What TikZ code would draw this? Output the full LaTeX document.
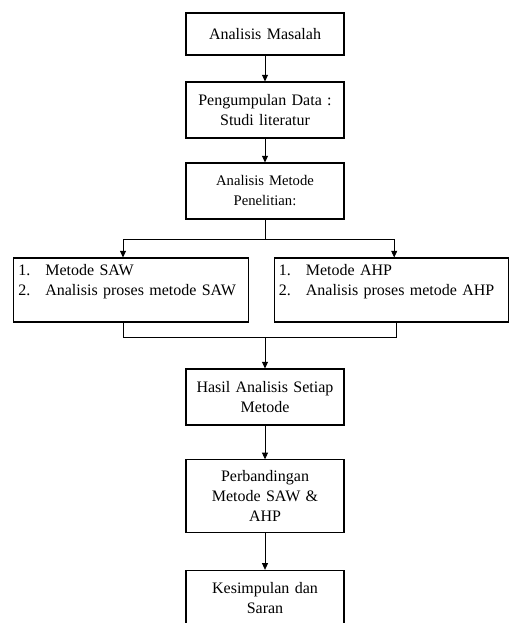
\documentclass[tikz,border=0pt]{standalone}
\usepackage{fontspec}
\setmainfont{Liberation Serif}
\usetikzlibrary{positioning, arrows.meta}

\tikzset{
    stepbox/.style={draw, line width=0.8pt, align=center, text width=112pt,
        minimum width=118.5pt, minimum height=42pt, inner sep=2pt,
        font=\fontsize{12}{15}\selectfont},
    listbox/.style={draw, line width=0.8pt, align=left, text width=169pt,
        minimum width=176pt, minimum height=48pt, inner xsep=3.5pt, inner ysep=0pt,
        font=\fontsize{12}{15}\selectfont},
    flow/.style={line width=0.6pt, -{Triangle[length=5pt,width=4.5pt]}},
    link/.style={line width=0.6pt}
}
\newcommand{\itemno}[1]{\makebox[20.25pt][l]{#1}}

\begin{document}
\begin{tikzpicture}[on grid, auto]
    \useasboundingbox (0,0) rectangle (382.5pt,-467.25pt);
    \clip (0,0) rectangle (382.5pt,-467.25pt);

    \node[stepbox, minimum height=31.5pt] (masalah) at (198.75pt,-25.5pt) {Analisis Masalah};
    \node[stepbox, below=57pt of masalah] (data) {Pengumpulan Data :\\ Studi literatur};
    \node[stepbox, below=60.75pt of data, font=\fontsize{11}{15}\selectfont] (metode) {Analisis Metode\\ Penelitian:};
    \node[listbox, below left=74.25pt and 100.5pt of metode] (saw)
        {\itemno{1.}Metode SAW\\ \itemno{2.}Analisis proses metode SAW\\ \mbox{}};
    \node[listbox, below right=74.25pt and 94.9pt of metode] (ahp)
        {\itemno{1.}Metode AHP\\ \itemno{2.}Analisis proses metode AHP\\ \mbox{}};
    \node[stepbox, below=154.5pt of metode] (hasil) {Hasil Analisis Setiap\\ Metode};
    \node[stepbox, below=74.5pt of hasil, minimum height=54.75pt] (banding) {Perbandingan\\ Metode SAW \&\\ AHP};
    \node[stepbox, below=76.5pt of banding] (simpulan) {Kesimpulan dan\\ Saran};

    % cabang ke dua metode
    \coordinate (split) at ([yshift=-15pt]metode.south);
    \coordinate (join) at ([yshift=-11.25pt]saw.south -| metode.south);

    \draw[flow] (masalah) -- (data);
    \draw[flow] (data) -- (metode);
    \draw[link] (metode.south) -- (split);
    \draw[flow] (split) -| ([xshift=-6pt]saw.north);
    \draw[flow] (split) -| ([xshift=2pt]ahp.north);
    \draw[link] ([xshift=-6pt]saw.south) |- (join) -| ([xshift=3.4pt]ahp.south);
    \draw[flow] (join) -- (hasil);
    \draw[flow] (hasil) -- (banding);
    \draw[flow] (banding) -- (simpulan);
\end{tikzpicture}
\end{document}
